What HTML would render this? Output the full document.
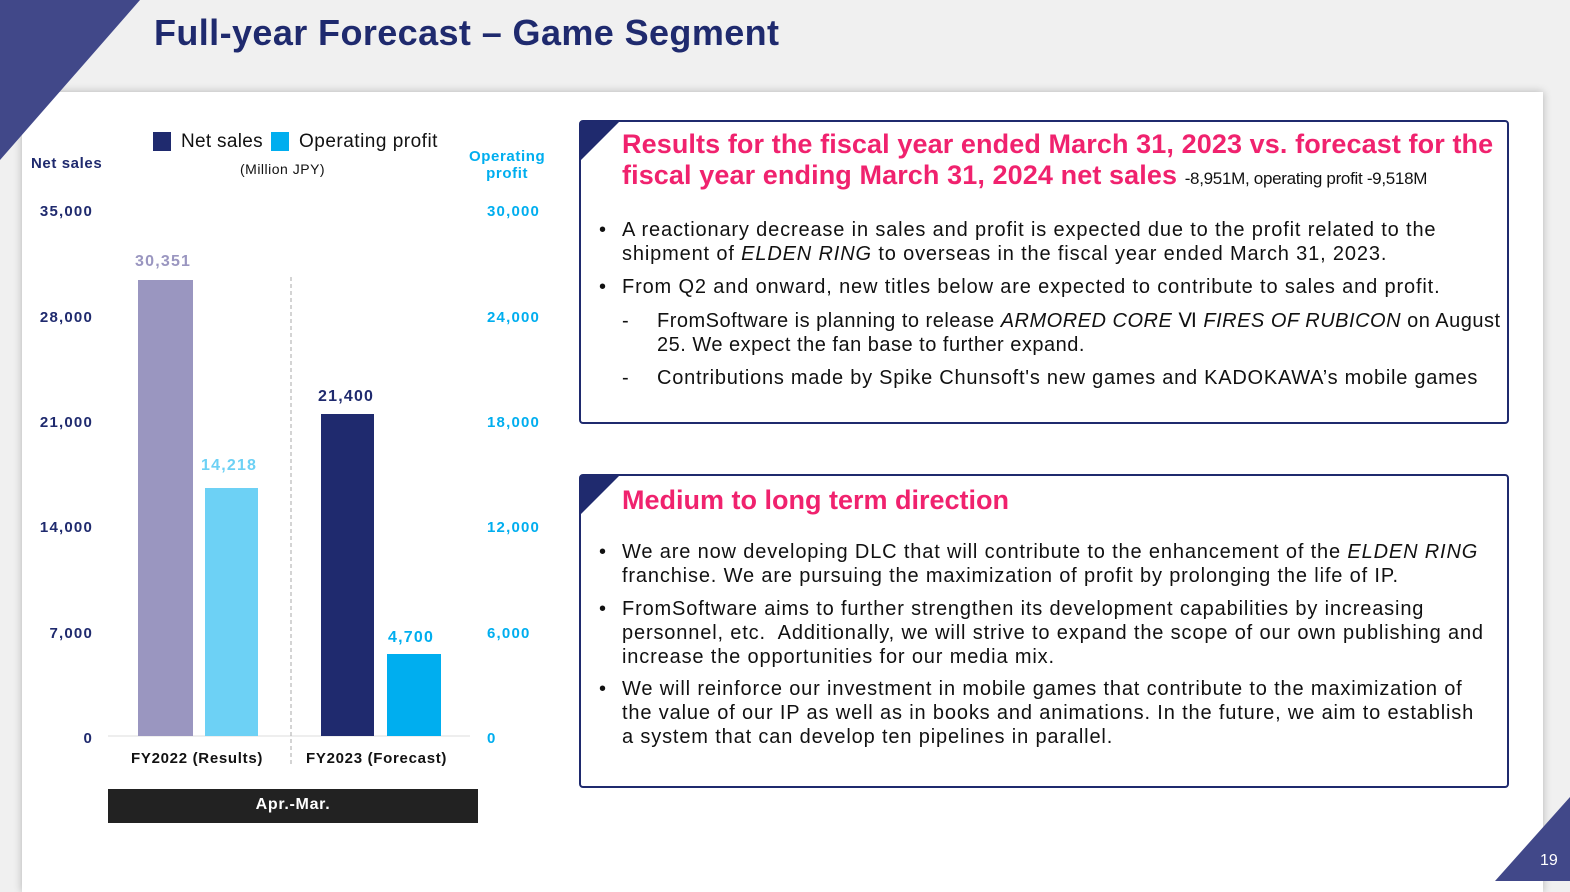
<!DOCTYPE html>
<html><head><meta charset="utf-8"><style>
body{margin:0;width:1570px;height:881px;background:#f0f0f0;position:relative;overflow:hidden;font-family:"Liberation Sans",sans-serif;}
.a{position:absolute;white-space:nowrap}
.panel{position:absolute;left:22px;top:92px;width:1521px;height:800px;background:#fff;box-shadow:0 0 8px rgba(0,0,0,.25)}
.box{position:absolute;border:2.5px solid #1f2a6e;border-radius:4px;background:#fff}
.pink{color:#f0226e;font-weight:bold;font-size:27px}
.t{font-size:20px;color:#111;line-height:24px;letter-spacing:0.85px}
.tl{font-size:15px;font-weight:bold;color:#1f2a6e;letter-spacing:1.2px}
.tr{font-size:15px;font-weight:bold;color:#00aeef;letter-spacing:1.2px}
.v{font-size:16px;font-weight:bold;letter-spacing:1.2px}
</style></head><body>
<div class="panel"></div>
<svg class="a" style="left:0;top:0" width="1570" height="881">
<polygon points="0,0 140,0 0,160" fill="#414889"/>
<polygon points="1570,797 1570,881 1495,881" fill="#414889"/>
<line x1="108" y1="736" x2="470" y2="736" stroke="#ddd"/>
<line x1="291" y1="277" x2="291" y2="765" stroke="#aaa" stroke-dasharray="4,3"/>
<rect x="138" y="280" width="55" height="456" fill="#9a96c0"/>
<rect x="205" y="488" width="53" height="248" fill="#6dd1f5"/>
<rect x="321" y="414" width="53" height="322" fill="#1f2a6e"/>
<rect x="387" y="654" width="54" height="82" fill="#00aeef"/>
<rect x="108" y="789" width="370" height="34" fill="#222"/>
<rect x="153" y="132" width="18" height="19" fill="#1f2a6e"/>
<rect x="271" y="132" width="18" height="19" fill="#00aeef"/>
</svg>
<div class="a" style="left:154px;top:12px;font-size:36px;font-weight:bold;color:#1f2a6e;letter-spacing:0.4px">Full-year Forecast – Game Segment</div>
<div class="a" style="left:181px;top:131px;font-size:19px;color:#111;letter-spacing:0.3px">Net sales</div>
<div class="a" style="left:299px;top:131px;font-size:19px;color:#111;letter-spacing:0.5px">Operating profit</div>
<div class="a" style="left:240px;top:161px;font-size:14px;color:#111;letter-spacing:0.5px">(Million JPY)</div>
<div class="a tl" style="left:31px;top:155px;letter-spacing:0.6px">Net sales</div>
<div class="a tr" style="left:469px;top:148px;text-align:center;line-height:17px;letter-spacing:0.6px">Operating<br>profit</div>
<div class="a tl" style="left:0;width:93px;text-align:right;top:203px">35,000</div>
<div class="a tl" style="left:0;width:93px;text-align:right;top:309px">28,000</div>
<div class="a tl" style="left:0;width:93px;text-align:right;top:414px">21,000</div>
<div class="a tl" style="left:0;width:93px;text-align:right;top:519px">14,000</div>
<div class="a tl" style="left:0;width:93px;text-align:right;top:625px">7,000</div>
<div class="a tl" style="left:0;width:93px;text-align:right;top:730px">0</div>
<div class="a tr" style="left:487px;top:203px">30,000</div>
<div class="a tr" style="left:487px;top:309px">24,000</div>
<div class="a tr" style="left:487px;top:414px">18,000</div>
<div class="a tr" style="left:487px;top:519px">12,000</div>
<div class="a tr" style="left:487px;top:625px">6,000</div>
<div class="a tr" style="left:487px;top:730px">0</div>
<div class="a v" style="left:135px;top:253px;color:#9a96c0">30,351</div>
<div class="a v" style="left:201px;top:457px;color:#6dd1f5">14,218</div>
<div class="a v" style="left:318px;top:388px;color:#1f2a6e">21,400</div>
<div class="a v" style="left:388px;top:629px;color:#00aeef">4,700</div>
<div class="a" style="left:131px;top:750px;font-size:15px;font-weight:bold;color:#111;letter-spacing:0.7px">FY2022 (Results)</div>
<div class="a" style="left:306px;top:750px;font-size:15px;font-weight:bold;color:#111;letter-spacing:0.7px">FY2023 (Forecast)</div>
<div class="a" style="left:108px;width:370px;text-align:center;top:796px;font-size:16px;font-weight:bold;color:#fff;letter-spacing:0.7px">Apr.-Mar.</div>

<div class="box" style="left:579px;top:120px;width:926px;height:300px"></div>
<svg class="a" style="left:581px;top:122px" width="40" height="40"><polygon points="0,0 38,0 0,38" fill="#1f2a6e"/></svg>
<div class="a pink" style="left:622px;top:129px;line-height:31px;letter-spacing:0.1px">Results for the fiscal year ended March 31, 2023 vs. forecast for the<br>fiscal year ending March 31, 2024 net sales <span style="font-size:17px;color:#111;font-weight:normal;letter-spacing:-0.3px">-8,951M, operating profit -9,518M</span></div>
<div class="a t" style="left:599px;top:218px">•</div>
<div class="a t" style="left:622px;top:218px">A reactionary decrease in sales and profit is expected due to the profit related to the<br>shipment of <i>ELDEN RING</i> to overseas in the fiscal year ended March 31, 2023.</div>
<div class="a t" style="left:599px;top:275px">•</div>
<div class="a t" style="left:622px;top:275px">From Q2 and onward, new titles below are expected to contribute to sales and profit.</div>
<div class="a t" style="left:622px;top:309px">-</div>
<div class="a t" style="left:657px;top:309px;letter-spacing:0.5px">FromSoftware is planning to release <i>ARMORED CORE</i> Ⅵ <i>FIRES OF RUBICON</i> on August<br>25. We expect the fan base to further expand.</div>
<div class="a t" style="left:622px;top:366px">-</div>
<div class="a t" style="left:657px;top:366px;letter-spacing:0.75px">Contributions made by Spike Chunsoft's new games and KADOKAWA’s mobile games</div>

<div class="box" style="left:579px;top:474px;width:926px;height:310px"></div>
<svg class="a" style="left:581px;top:476px" width="40" height="40"><polygon points="0,0 38,0 0,38" fill="#1f2a6e"/></svg>
<div class="a pink" style="left:622px;top:485px">Medium to long term direction</div>
<div class="a t" style="left:599px;top:540px">•</div>
<div class="a t" style="left:622px;top:540px">We are now developing DLC that will contribute to the enhancement of the <i>ELDEN RING</i><br>franchise. We are pursuing the maximization of profit by prolonging the life of IP.</div>
<div class="a t" style="left:599px;top:597px">•</div>
<div class="a t" style="left:622px;top:597px">FromSoftware aims to further strengthen its development capabilities by increasing<br>personnel, etc.&nbsp; Additionally, we will strive to expand the scope of our own publishing and<br>increase the opportunities for our media mix.</div>
<div class="a t" style="left:599px;top:677px">•</div>
<div class="a t" style="left:622px;top:677px">We will reinforce our investment in mobile games that contribute to the maximization of<br>the value of our IP as well as in books and animations. In the future, we aim to establish<br>a system that can develop ten pipelines in parallel.</div>
<div class="a" style="left:1540px;top:852px;font-size:16px;color:#fff">19</div>
</body></html>
